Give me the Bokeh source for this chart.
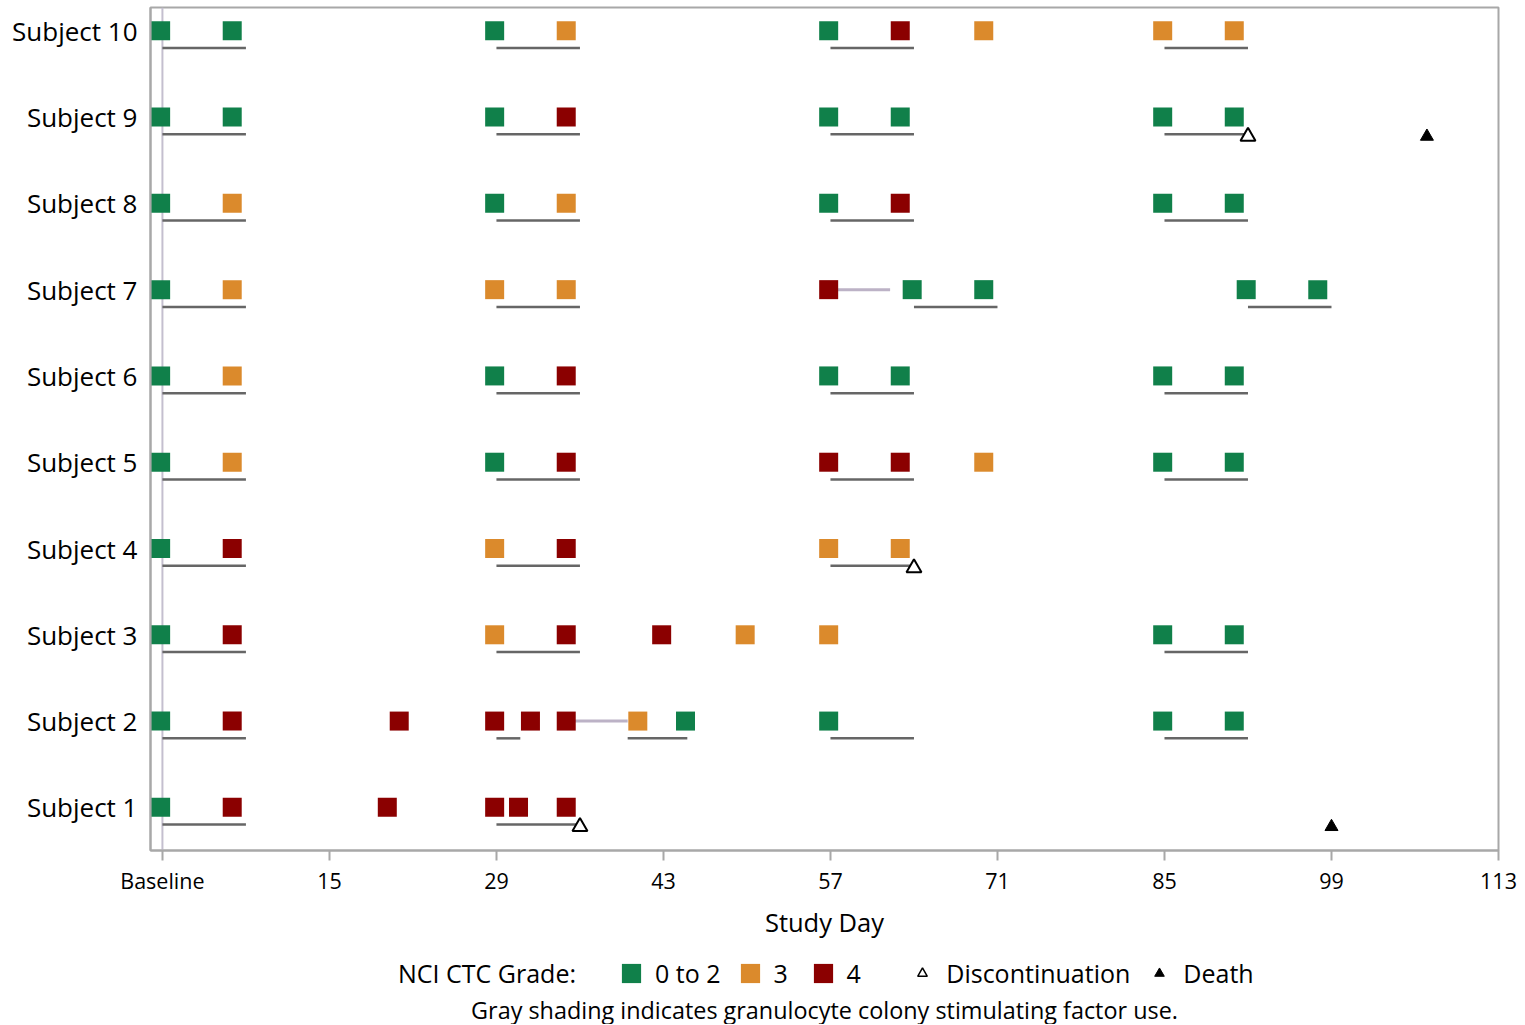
from bokeh.plotting import figure
from bokeh.layouts import column
from bokeh.models import (Range1d, FixedTicker, Legend, LegendItem, Span, Label,
                          ColumnDataSource)
from bokeh.transform import dodge
from bokeh.embed import file_html
from bokeh.resources import INLINE

FONT = "Open Sans"

# ---------------- data ----------------
subjects = [1, 2, 3, 4, 5, 6, 7, 8, 9, 10]
subject_labels = ["Subject %d" % s for s in subjects]

x_ticks = [1, 15, 29, 43, 57, 71, 85, 99, 113]
baseline_day = 1
grades = ["0 to 2", "3", "4"]
grade_colors = ["#10804a", "#db8a2c", "#8b0000"]

# lab visits (study day) and NCI CTC grade per subject
lab_days = {
    1: [1, 7, 20, 29, 31, 35],
    2: [1, 7, 21, 29, 32, 35, 41, 45, 57, 85, 91],
    3: [1, 7, 29, 35, 43, 50, 57, 85, 91],
    4: [1, 7, 29, 35, 57, 63],
    5: [1, 7, 29, 35, 57, 63, 70, 85, 91],
    6: [1, 7, 29, 35, 57, 63, 85, 91],
    7: [1, 7, 29, 35, 57, 64, 70, 92, 98],
    8: [1, 7, 29, 35, 57, 63, 85, 91],
    9: [1, 7, 29, 35, 57, 63, 85, 91],
    10: [1, 7, 29, 35, 57, 63, 70, 85, 91],
}
lab_grades = {
    1: ["0 to 2", "4", "4", "4", "4", "4"],
    2: ["0 to 2", "4", "4", "4", "4", "4", "3", "0 to 2", "0 to 2", "0 to 2", "0 to 2"],
    3: ["0 to 2", "4", "3", "4", "4", "3", "3", "0 to 2", "0 to 2"],
    4: ["0 to 2", "4", "3", "4", "3", "3"],
    5: ["0 to 2", "3", "0 to 2", "4", "4", "4", "3", "0 to 2", "0 to 2"],
    6: ["0 to 2", "3", "0 to 2", "4", "0 to 2", "0 to 2", "0 to 2", "0 to 2"],
    7: ["0 to 2", "3", "3", "3", "4", "0 to 2", "0 to 2", "0 to 2", "0 to 2"],
    8: ["0 to 2", "3", "0 to 2", "3", "0 to 2", "4", "0 to 2", "0 to 2"],
    9: ["0 to 2", "0 to 2", "0 to 2", "4", "0 to 2", "0 to 2", "0 to 2", "0 to 2"],
    10: ["0 to 2", "0 to 2", "0 to 2", "3", "0 to 2", "4", "3", "3", "3"],
}

# treatment cycles (start / end day)
dose_start = {
    1: [1, 29], 2: [1, 29, 40, 57, 85], 3: [1, 29, 85], 4: [1, 29, 57],
    5: [1, 29, 57, 85], 6: [1, 29, 57, 85], 7: [1, 29, 64, 92],
    8: [1, 29, 57, 85], 9: [1, 29, 57, 85], 10: [1, 29, 57, 85],
}
dose_end = {
    1: [8, 36], 2: [8, 31, 45, 64, 92], 3: [8, 36, 92], 4: [8, 36, 64],
    5: [8, 36, 64, 92], 6: [8, 36, 64, 92], 7: [8, 36, 71, 99],
    8: [8, 36, 64, 92], 9: [8, 36, 64, 92], 10: [8, 36, 64, 92],
}

# G-CSF use
gcsf_subject = [2, 7]
gcsf_start = [35, 57]
gcsf_end = [40, 62]

# events
disc_subject = [1, 4, 9]
disc_day = [36, 64, 92]
death_subject = [1, 9]
death_day = [99, 107]

footnote = "Gray shading indicates granulocyte colony stimulating factor use."

# ---------------- sources ----------------
lab_src = {}
for g in grades:
    d, s = [], []
    for subj in subjects:
        for day, gr in zip(lab_days[subj], lab_grades[subj]):
            if gr == g:
                d.append(day)
                s.append(subj)
    lab_src[g] = ColumnDataSource(dict(day=d, subj=s))

ds, de, dsub = [], [], []
for subj in subjects:
    for a, b in zip(dose_start[subj], dose_end[subj]):
        ds.append(a)
        de.append(b)
        dsub.append(subj)
dose_src = ColumnDataSource(dict(x0=ds, x1=de, subj=dsub))
gcsf_src = ColumnDataSource(dict(x0=gcsf_start, x1=gcsf_end, subj=gcsf_subject))
disc_src = ColumnDataSource(dict(day=disc_day, subj=disc_subject))
death_src = ColumnDataSource(dict(day=death_day, subj=death_subject))

# ---------------- main figure ----------------
p = figure(frame_width=1348, frame_height=843, output_backend="svg",
           toolbar_location=None,
           x_range=Range1d(0, 113), y_range=Range1d(0.5, 10.27),
           min_border_left=150, min_border_right=22, min_border_top=7,
           min_border_bottom=95)
p.grid.visible = False
p.outline_line_color = "#a8a8a8"
p.outline_line_width = 2
p.background_fill_color = "white"
p.border_fill_color = "white"

p.add_layout(Span(location=baseline_day, dimension="height",
                  line_color="#c4bfcf", line_width=2, level="underlay"))

# treatment lines
p.segment(x0="x0", x1="x1", y0=dodge("subj", -0.2), y1=dodge("subj", -0.2),
          source=dose_src, line_color="#666666", line_width=2.5)
# G-CSF use
p.segment(x0="x0", x1="x1", y0="subj", y1="subj", source=gcsf_src,
          line_color="#bcb2c6", line_width=3)

for g, c in zip(grades, grade_colors):
    p.rect(x=dodge("day", -0.15), y="subj", width=19, height=19,
           width_units="screen", height_units="screen",
           source=lab_src[g], fill_color=c, line_color=None)

p.scatter(x="day", y=dodge("subj", -0.225), source=disc_src,
          marker="triangle", size=15, fill_color="white",
          line_color="black", line_width=2)
p.scatter(x="day", y=dodge("subj", -0.225), source=death_src,
          marker="triangle", size=13, fill_color="black",
          line_color="black", line_width=1)

# axes
xa = p.xaxis[0]
xa.ticker = FixedTicker(ticks=x_ticks)
xa.major_label_overrides = {baseline_day: "Baseline"}
xa.minor_tick_line_color = None
xa.major_tick_in = 0
xa.major_tick_out = 10
xa.major_tick_line_color = "#a8a8a8"
xa.major_tick_line_width = 2
xa.axis_line_color = "#a8a8a8"
xa.axis_line_width = 2
xa.major_label_text_font = FONT
xa.major_label_text_font_size = "21.5px"
xa.major_label_text_color = "black"
xa.major_label_standoff = 5
xa.axis_label = "Study Day"
xa.axis_label_text_font = FONT
xa.axis_label_text_font_size = "25.5px"
xa.axis_label_text_font_style = "normal"
xa.axis_label_text_color = "black"
xa.axis_label_standoff = 7

ya = p.yaxis[0]
ya.ticker = FixedTicker(ticks=subjects)
ya.major_label_overrides = {s: l for s, l in zip(subjects, subject_labels)}
ya.minor_tick_line_color = None
ya.major_tick_line_color = None
ya.major_tick_in = 0
ya.major_tick_out = 0
ya.axis_line_color = "#a8a8a8"
ya.axis_line_width = 2
ya.major_label_text_font = FONT
ya.major_label_text_font_size = "26px"
ya.major_label_text_color = "black"
ya.major_label_standoff = 13

# ---------------- legend / footnote strip ----------------
# same horizontal structure as the main figure; its data range is placed so
# that the legend proxy glyphs (which reuse the real sources) stay out of view
lf = figure(frame_width=1348, frame_height=79, output_backend="svg",
            toolbar_location=None, x_range=Range1d(0, 113),
            y_range=Range1d(1000, 1079),
            x_axis_location=None, y_axis_location=None,
            min_border_left=150, min_border_right=22, min_border_top=0,
            min_border_bottom=0)
lf.grid.visible = False
lf.outline_line_color = None
lf.background_fill_color = "white"
lf.border_fill_color = "white"

proxy_blank = lf.rect(x="day", y="subj", width=19, height=19, width_units="screen",
                      height_units="screen", source=lab_src[grades[0]],
                      fill_alpha=0, line_alpha=0)
proxies = [lf.rect(x="day", y="subj", width=19, height=19, width_units="screen",
                   height_units="screen", source=lab_src[g], fill_color=c,
                   line_color=None)
           for g, c in zip(grades, grade_colors)]
proxy_disc = lf.scatter(x="day", y="subj", source=disc_src, marker="triangle",
                        size=15, fill_color="white", line_color="black",
                        line_width=1.5)
proxy_death = lf.scatter(x="day", y="subj", source=death_src, marker="triangle",
                         size=13, fill_color="black", line_color="black",
                         line_width=1)

NB = "\u00a0"
legend = Legend(items=[
    LegendItem(label="NCI CTC Grade:" + NB * 4, renderers=[proxy_blank]),
    LegendItem(label=grades[0], renderers=[proxies[0]]),
    LegendItem(label=grades[1], renderers=[proxies[1]]),
    LegendItem(label=grades[2] + NB * 5, renderers=[proxies[2]]),
    LegendItem(label="Discontinuation", renderers=[proxy_disc]),
    LegendItem(label="Death", renderers=[proxy_death]),
], orientation="horizontal", location=(212, 34), glyph_width=24, glyph_height=24,
    label_standoff=12, spacing=17, padding=0, margin=0,
    border_line_color=None, background_fill_alpha=0,
    label_text_font=FONT, label_text_font_size="25px", label_text_color="black")
lf.add_layout(legend)

lf.add_layout(Label(x=674, y=15, x_units="screen", y_units="screen",
                    text=footnote, text_align="center", text_baseline="middle",
                    text_font=FONT, text_font_size="23.4px", text_color="black"))

layout = column(p, lf, spacing=0)
open("out.html", "w").write(file_html(layout, INLINE))
